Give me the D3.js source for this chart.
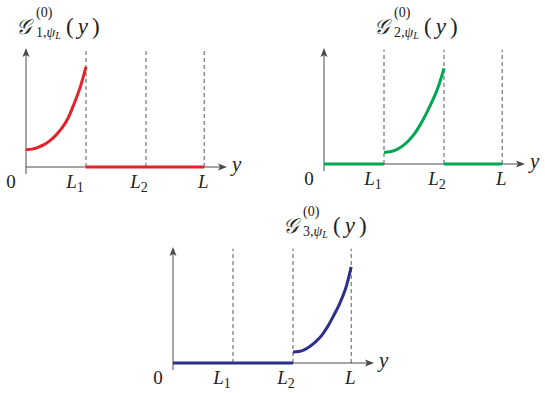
<!DOCTYPE html>
<html><head><meta charset="utf-8">
<script src="https://cdn.jsdelivr.net/npm/d3@7"></script>
<style>body{margin:0;background:#fff}svg{display:block}
text{font-family:"Liberation Serif","DejaVu Serif","Times New Roman",serif}</style>
</head><body>
<svg id="c" width="545" height="393"></svg>
<script>
// ---- data ----
const tickPos = [1, 2, 2.97];            // positions of L1, L2, L (in units of L1)
const tickBase = ["L", "L", "L"];
const tickSub = ["1", "2", ""];
const curveT = [0, 0.1, 0.2, 0.3, 0.4, 0.5, 0.6, 0.7, 0.8, 0.9, 1.0]; // fraction across active segment
const g1 = [0.146, 0.150, 0.165, 0.188, 0.222, 0.268, 0.328, 0.41, 0.53, 0.665, 0.841];
const g2 = [0.10, 0.105, 0.122, 0.152, 0.196, 0.255, 0.335, 0.43, 0.537, 0.66, 0.825];
const g3 = [0.095, 0.099, 0.116, 0.146, 0.188, 0.243, 0.318, 0.41, 0.51, 0.635, 0.828];
const seriesIndex = ["1", "2", "3"];
const segStart = [0, 1, 2];
const segEnd = [1, 2, 2.97];
const colors = ["#e5222b", "#00a651", "#2c2f8e"];

// ---- layout ----
const panels = [
  {x0: 26, axisY: 167, h: 119},
  {x0: 324, axisY: 164, h: 116},
  {x0: 173, axisY: 363, h: 116}
];
const svg = d3.select("#c");
const axisColor = "#4a4a4a";
const curves = [g1, g2, g3];

panels.forEach((p, i) => {
  const g = svg.append("g");
  const x = d3.scaleLinear().domain([0, 3.35]).range([p.x0, p.x0 + 201]);
  const y = d3.scaleLinear().domain([0, 1]).range([p.axisY, p.axisY - p.h]);

  g.selectAll("line.dash").data(tickPos).join("line")
    .attr("x1", d => x(d)).attr("x2", d => x(d))
    .attr("y1", y(0)).attr("y2", y(0.985))
    .attr("stroke", "#444").attr("stroke-width", 0.9)
    .attr("stroke-dasharray", "4,3");

  g.append("line").attr("x1", x(0)).attr("x2", x(3.35) - 2)
    .attr("y1", y(0)).attr("y2", y(0)).attr("stroke", axisColor).attr("stroke-width", 1);
  g.append("line").attr("x1", x(0)).attr("x2", x(0))
    .attr("y1", y(0) + 7).attr("y2", y(1) + 2).attr("stroke", axisColor).attr("stroke-width", 1);
  const ax = x(3.35), ay = y(0);
  g.append("path").attr("d", `M${ax},${ay} L${ax - 9},${ay - 3.5} L${ax - 7},${ay} L${ax - 9},${ay + 3.5} Z`).attr("fill", axisColor);
  const tx = x(0), ty = y(1);
  g.append("path").attr("d", `M${tx},${ty} L${tx - 3.5},${ty + 9} L${tx},${ty + 7} L${tx + 3.5},${ty + 9} Z`).attr("fill", axisColor);

  const bounds = [0].concat(tickPos);
  const flat = [];
  for (let k = 0; k < 3; k++) if (k !== i) flat.push([bounds[k], bounds[k + 1]]);
  g.selectAll("line.flat").data(flat).join("line")
    .attr("x1", d => x(d[0])).attr("x2", d => x(d[1]))
    .attr("y1", y(0)).attr("y2", y(0))
    .attr("stroke", colors[i]).attr("stroke-width", 3);

  const pts = curveT.map((t, k) => [segStart[i] + t * (segEnd[i] - segStart[i]), curves[i][k]]);
  g.append("path").datum(pts)
    .attr("d", d3.line().x(d => x(d[0])).y(d => y(d[1])).curve(d3.curveCatmullRom.alpha(0.5)))
    .attr("fill", "none").attr("stroke", colors[i]).attr("stroke-width", 3);

  const dxs = [-11, -7, -1];
  tickPos.forEach((tp, k) => {
    const t = g.append("text").attr("x", x(tp) + dxs[k]).attr("y", y(0) + 21)
      .attr("text-anchor", "middle").attr("font-size", 19).attr("fill", "#222");
    t.append("tspan").attr("font-style", "italic").text(tickBase[k]);
    if (tickSub[k]) t.append("tspan").attr("font-size", 14).attr("dy", 4).text(tickSub[k]);
  });
  g.append("text").attr("x", x(0) - 15).attr("y", y(0) + 21).attr("text-anchor", "middle")
    .attr("font-size", 19).attr("fill", "#222").text("0");
  g.append("text").attr("x", x(3.35) + 5).attr("y", y(0) + 4)
    .attr("font-style", "italic").attr("font-size", 21).attr("fill", "#222").text("y");

  const bx = x(segStart[i]) - 10, by = y(1) - 14;
  const tg = g.append("g").attr("fill", "#222");
  tg.append("text").attr("x", bx).attr("y", by).attr("font-size", 21).attr("font-style", "italic").text("𝒢");
  tg.append("text").attr("x", bx + 20).attr("y", by - 17).attr("font-size", 14).text("(0)");
  const sub = tg.append("text").attr("x", bx + 20).attr("y", by + 3).attr("font-size", 14);
  sub.append("tspan").text(seriesIndex[i] + ",");
  sub.append("tspan").attr("font-style", "italic").text("ψ");
  sub.append("tspan").attr("font-style", "italic").attr("font-size", 10).attr("dy", 2).text("L");
  const par = tg.append("text").attr("x", bx + 50).attr("y", by).attr("font-size", 23).attr("letter-spacing", 4);
  par.append("tspan").text("(");
  par.append("tspan").attr("font-style", "italic").text("y");
  par.append("tspan").text(")");
});
</script>
</body></html>
